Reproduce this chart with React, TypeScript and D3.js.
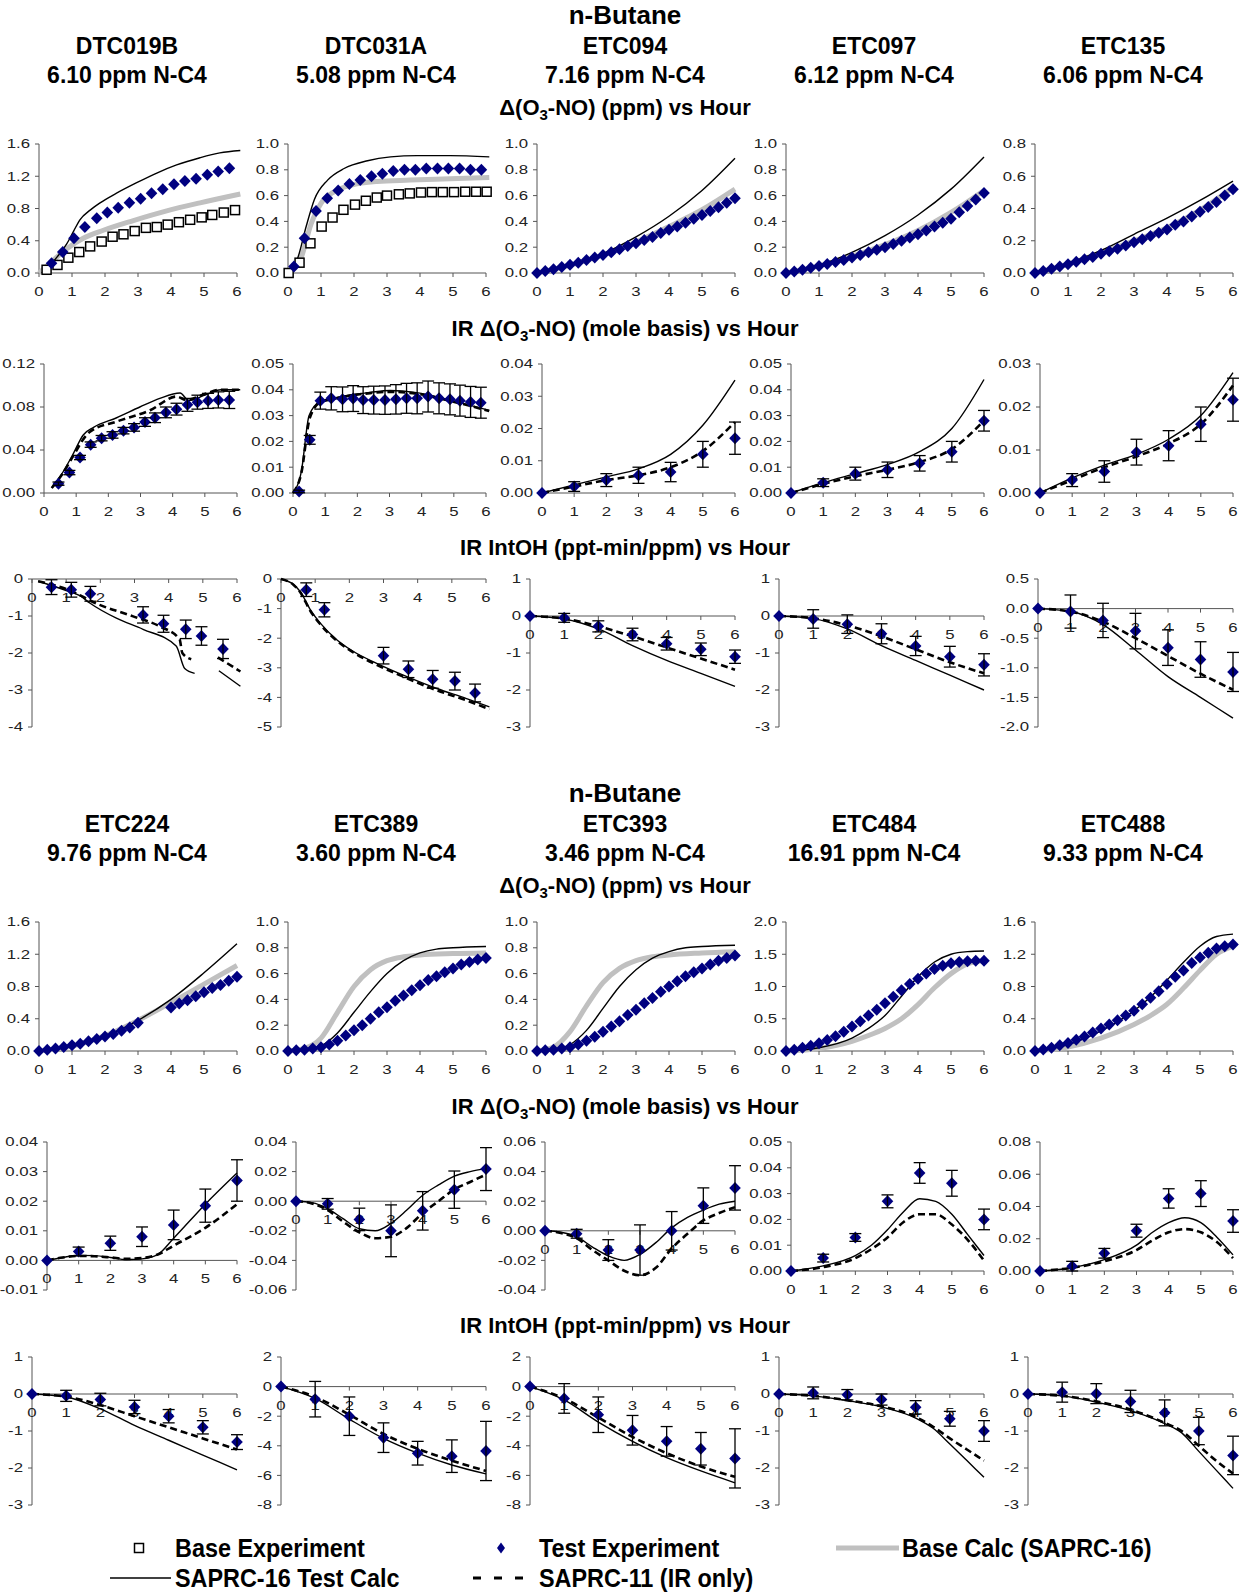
import React from 'react';
import * as d3 from 'd3';

type P2 = [number, number | null];
type P3 = [number, number, number];

const experiments = ['DTC019B', 'DTC031A', 'ETC094', 'ETC097', 'ETC135', 'ETC224', 'ETC389', 'ETC393', 'ETC484', 'ETC488'];
const nC4ppm = ['6.10', '5.08', '7.16', '6.12', '6.06', '9.76', '3.60', '3.46', '16.91', '9.33'];
const rowTitles = ['Δ(O3-NO) (ppm) vs Hour', 'IR Δ(O3-NO) (mole basis) vs Hour', 'IR IntOH (ppt-min/ppm) vs Hour'];
const hourTicks = [0, 1, 2, 3, 4, 5, 6];
const quarterHours = [0, 0.25, 0.5, 0.75, 1, 1.25, 1.5, 1.75, 2, 2.25, 2.5, 2.75, 3, 3.25, 3.5, 3.75, 4, 4.25, 4.5, 4.75, 5, 5.25, 5.5, 5.75, 6];

// y tick values
const ticks16 = [0, 0.4, 0.8, 1.2, 1.6];
const ticks10 = [0, 0.2, 0.4, 0.6, 0.8, 1.0];
const ticks08 = [0, 0.2, 0.4, 0.6, 0.8];
const ticks20 = [0, 0.5, 1.0, 1.5, 2.0];
const ticks012 = [0, 0.04, 0.08, 0.12];
const ticks005 = [0, 0.01, 0.02, 0.03, 0.04, 0.05];
const ticks004 = [0, 0.01, 0.02, 0.03, 0.04];
const ticks003 = [0, 0.01, 0.02, 0.03];
const ticks008 = [0, 0.02, 0.04, 0.06, 0.08];
const ticksE224 = [-0.01, 0, 0.01, 0.02, 0.03, 0.04];
const ticksE389 = [-0.06, -0.04, -0.02, 0, 0.02, 0.04];
const ticksE393 = [-0.04, -0.02, 0, 0.02, 0.04, 0.06];
const ticksM4 = [-4, -3, -2, -1, 0];
const ticksM5 = [-5, -4, -3, -2, -1, 0];
const ticksM3 = [-3, -2, -1, 0, 1];
const ticksM2 = [-2, -1.5, -1, -0.5, 0, 0.5];
const ticksM8 = [-8, -6, -4, -2, 0, 2];

// ---- block 1, d(O3-NO) ----
const dtc019bBaseExp: P2[] = [[0.23, 0.04], [0.56, 0.10], [0.89, 0.19], [1.22, 0.26], [1.55, 0.33], [1.9, 0.39], [2.23, 0.45], [2.56, 0.48], [2.9, 0.52], [3.24, 0.56], [3.57, 0.57], [3.9, 0.60], [4.24, 0.63], [4.58, 0.66], [4.93, 0.69], [5.25, 0.72], [5.6, 0.75], [5.94, 0.78]];
const dtc019bTestExp: P2[] = [[0.38, 0.12], [0.72, 0.26], [1.06, 0.43], [1.39, 0.57], [1.75, 0.68], [2.07, 0.75], [2.4, 0.81], [2.74, 0.87], [3.08, 0.92], [3.41, 0.99], [3.75, 1.04], [4.09, 1.10], [4.42, 1.14], [4.76, 1.17], [5.1, 1.22], [5.43, 1.26], [5.77, 1.30]];
const dtc019bTestCalc: P2[] = [[0.08, 0], [0.3, 0.08], [0.55, 0.2], [0.84, 0.36], [1.05, 0.52], [1.24, 0.66], [1.55, 0.78], [1.85, 0.87], [2.35, 0.99], [2.96, 1.12], [3.57, 1.24], [4.17, 1.34], [4.88, 1.43], [5.48, 1.49], [6.1, 1.52]];
const dtc019bBaseCalc: P2[] = [[0, 0], [0.33, 0.12], [0.84, 0.30], [1.34, 0.43], [1.95, 0.53], [2.86, 0.65], [3.87, 0.77], [4.88, 0.87], [6.1, 0.98]];

const dtc031aBaseExp: P2[] = [[0.02, 0.0], [0.35, 0.08], [0.68, 0.23], [1.02, 0.36], [1.35, 0.43], [1.68, 0.49], [2.03, 0.53], [2.36, 0.56], [2.69, 0.585], [3.0, 0.60], [3.36, 0.61], [3.69, 0.617], [4.03, 0.624], [4.36, 0.627], [4.69, 0.627], [5.03, 0.627], [5.37, 0.63], [5.7, 0.63], [6.02, 0.63]];
const dtc031aTestExp: P2[] = [[0.18, 0.05], [0.5, 0.27], [0.85, 0.48], [1.19, 0.58], [1.52, 0.64], [1.86, 0.69], [2.19, 0.72], [2.53, 0.75], [2.86, 0.77], [3.19, 0.79], [3.53, 0.80], [3.86, 0.80], [4.19, 0.81], [4.53, 0.81], [4.86, 0.81], [5.2, 0.81], [5.53, 0.80], [5.86, 0.80]];
const dtc031aTestCalc: P2[] = [[0.02, 0], [0.3, 0.12], [0.55, 0.36], [0.8, 0.57], [1.2, 0.72], [1.7, 0.81], [2.41, 0.87], [3.11, 0.90], [3.91, 0.91], [4.91, 0.91], [6.1, 0.90]];
const dtc031aBaseCalc: P2[] = [[0.02, 0], [0.4, 0.12], [0.7, 0.38], [1.0, 0.54], [1.4, 0.63], [1.9, 0.68], [2.7, 0.71], [3.7, 0.72], [4.91, 0.73], [6.1, 0.74]];

const etc094TestExp = [0, 0.015, 0.03, 0.047, 0.064, 0.08, 0.10, 0.12, 0.14, 0.16, 0.185, 0.21, 0.23, 0.255, 0.28, 0.31, 0.335, 0.36, 0.39, 0.42, 0.45, 0.48, 0.51, 0.545, 0.58];
const etc094TestCalc: P2[] = [[0, 0], [1, 0.06], [2, 0.15], [3, 0.28], [4, 0.44], [5, 0.64], [6, 0.89]];
const etc094BaseCalc: P2[] = [[0, 0], [1, 0.06], [2, 0.14], [3, 0.24], [4, 0.36], [5, 0.49], [6, 0.65]];

const etc097TestExp = [0, 0.012, 0.025, 0.04, 0.055, 0.07, 0.085, 0.10, 0.12, 0.14, 0.16, 0.18, 0.20, 0.225, 0.25, 0.275, 0.30, 0.33, 0.36, 0.39, 0.42, 0.47, 0.52, 0.57, 0.62];
const etc097TestCalc: P2[] = [[0, 0], [1, 0.06], [2, 0.16], [3, 0.29], [4, 0.45], [5, 0.65], [6, 0.90]];
const etc097BaseCalc: P2[] = [[0, 0], [1, 0.055], [2, 0.13], [3, 0.22], [4, 0.33], [5, 0.47], [6, 0.64]];

const etc135TestExp = [0, 0.013, 0.026, 0.04, 0.055, 0.07, 0.085, 0.10, 0.12, 0.135, 0.15, 0.17, 0.19, 0.21, 0.23, 0.25, 0.27, 0.30, 0.32, 0.35, 0.38, 0.41, 0.44, 0.48, 0.52];
const etc135TestCalc: P2[] = [[0, 0], [1, 0.06], [2, 0.14], [3, 0.24], [4, 0.34], [5, 0.45], [6, 0.57]];
const etc135BaseCalc: P2[] = [[0, 0], [1, 0.055], [2, 0.125], [3, 0.2], [4, 0.28], [5, 0.39], [6, 0.53]];

// ---- block 1, IR d(O3-NO) ----
const dtc019bIrTest: P3[] = [[0.45, 0.0087, 0.0015], [0.79, 0.019, 0.002], [1.12, 0.033, 0.002], [1.45, 0.045, 0.0025], [1.79, 0.051, 0.0025], [2.13, 0.054, 0.003], [2.47, 0.058, 0.003], [2.8, 0.061, 0.0035], [3.14, 0.066, 0.004], [3.45, 0.070, 0.0045], [3.79, 0.075, 0.005], [4.12, 0.078, 0.0055], [4.46, 0.082, 0.006], [4.77, 0.0845, 0.0065], [5.1, 0.0857, 0.007], [5.42, 0.0866, 0.0075], [5.76, 0.0866, 0.008]];
const dtc019bIrCalc: P2[] = [[0.24, 0.0046], [0.6, 0.02], [0.9, 0.036], [1.22, 0.054], [1.54, 0.061], [2.26, 0.070], [2.98, 0.080], [3.6, 0.088], [4.23, 0.093], [4.5, 0.086], [5.0, 0.091], [5.5, 0.096], [6.1, 0.096]];
const dtc019bIrS11: P2[] = [[0.24, 0.0046], [0.6, 0.019], [0.9, 0.034], [1.27, 0.052], [1.43, 0.057], [2.26, 0.0665], [3.3, 0.077], [4.12, 0.0897], [4.43, 0.0866], [5.0, 0.092], [5.47, 0.096], [6.1, 0.096]];

const dtc031aIrTest: P3[] = [[0.19, 0.0006, 0.0005], [0.52, 0.0206, 0.0017], [0.85, 0.0358, 0.0033], [1.19, 0.0367, 0.0045], [1.54, 0.0363, 0.0048], [1.87, 0.0366, 0.005], [2.18, 0.036, 0.0052], [2.51, 0.036, 0.0054], [2.86, 0.036, 0.0055], [3.2, 0.0363, 0.0057], [3.53, 0.0367, 0.0058], [3.86, 0.0367, 0.006], [4.2, 0.0374, 0.006], [4.54, 0.0367, 0.006], [4.88, 0.0363, 0.006], [5.19, 0.0358, 0.006], [5.52, 0.0353, 0.006], [5.84, 0.035, 0.006]];
const dtc031aIrCalc: P2[] = [[0, 0], [0.26, 0.0084], [0.5, 0.030], [0.83, 0.0354], [1.2, 0.0366], [1.76, 0.038], [2.4, 0.039], [3.01, 0.0397], [3.84, 0.0389], [4.88, 0.036], [6.1, 0.032]];
const dtc031aIrS11: P2[] = [[0, 0], [0.26, 0.0078], [0.52, 0.029], [0.85, 0.0352], [1.2, 0.0363], [1.76, 0.0377], [2.4, 0.0387], [3.01, 0.0392], [3.84, 0.0385], [4.88, 0.0357], [6.1, 0.0318]];

const etc094IrTest: P3[] = [[0, 0, 0], [1, 0.002, 0.0015], [2, 0.004, 0.002], [3, 0.0055, 0.0025], [4, 0.0065, 0.003], [5, 0.012, 0.004], [6, 0.017, 0.005]];
const etc094IrCalc: P2[] = [[0, 0], [1, 0.0025], [2, 0.005], [3, 0.0075], [4, 0.012], [5, 0.021], [6, 0.035]];
const etc094IrS11: P2[] = [[0, 0], [1, 0.002], [2, 0.004], [3, 0.0055], [4, 0.008], [5, 0.013], [6, 0.022]];

const etc097IrTest: P3[] = [[0, 0, 0], [1, 0.004, 0.0015], [2, 0.0075, 0.0025], [3, 0.009, 0.003], [4, 0.0115, 0.003], [5, 0.016, 0.004], [6, 0.028, 0.004]];
const etc097IrCalc: P2[] = [[0, 0], [1, 0.004], [2, 0.0075], [3, 0.011], [4, 0.016], [5, 0.025], [6, 0.044]];
const etc097IrS11: P2[] = [[0, 0], [1, 0.0035], [2, 0.0065], [3, 0.009], [4, 0.012], [5, 0.017], [6, 0.028]];

const etc135IrTest: P3[] = [[0, 0, 0], [1, 0.003, 0.0015], [2, 0.005, 0.0025], [3, 0.0095, 0.003], [4, 0.011, 0.0035], [5, 0.016, 0.004], [6, 0.0217, 0.005]];
const etc135IrCalc: P2[] = [[0, 0], [1, 0.0035], [2, 0.0065], [3, 0.009], [4, 0.0125], [5, 0.018], [6, 0.028]];
const etc135IrS11: P2[] = [[0, 0], [1, 0.003], [2, 0.006], [3, 0.0085], [4, 0.0115], [5, 0.016], [6, 0.025]];

// ---- block 1, IR IntOH ----
const dtc019bOhTest: P3[] = [[0.57, -0.22, 0.2], [1.15, -0.29, 0.2], [1.71, -0.40, 0.2], [3.25, -0.97, 0.22], [3.85, -1.21, 0.23], [4.5, -1.36, 0.25], [4.96, -1.54, 0.25], [5.59, -1.89, 0.26]];
const dtc019bOhCalc: P2[] = [[0.18, -0.06], [1.0, -0.31], [1.4, -0.45], [1.69, -0.65], [2.47, -1.06], [3.25, -1.36], [4.22, -1.81], [4.47, -2.42], [4.76, -2.55], [4.8, null], [5.47, -2.48], [6.1, -2.9]];
const dtc019bOhS11: P2[] = [[0.18, -0.06], [1.0, -0.27], [1.98, -0.70], [2.96, -1.01], [3.74, -1.28], [4.32, -1.63], [4.4, -2.0], [4.66, -2.17], [4.7, null], [5.44, -2.12], [6.1, -2.5]];

const dtc031aOhTest: P3[] = [[0.74, -0.36, 0.23], [1.27, -1.04, 0.24], [3.0, -2.59, 0.28], [3.73, -3.05, 0.28], [4.44, -3.39, 0.3], [5.09, -3.45, 0.3], [5.68, -3.85, 0.3]];
const dtc031aOhCalc: P2[] = [[0, 0], [0.37, -0.19], [0.56, -0.42], [0.86, -1.04], [1.15, -1.49], [1.64, -2.06], [2.12, -2.45], [2.8, -2.85], [3.58, -3.25], [4.56, -3.70], [5.43, -4.04], [6.1, -4.32]];
const dtc031aOhS11: P2[] = [[0, 0], [0.37, -0.2], [0.56, -0.44], [0.86, -1.08], [1.15, -1.53], [1.64, -2.09], [2.12, -2.48], [2.8, -2.9], [3.58, -3.3], [4.56, -3.76], [5.43, -4.1], [6.1, -4.4]];

const etc094OhTest: P3[] = [[0, 0, 0], [1, -0.05, 0.12], [2, -0.28, 0.15], [3, -0.5, 0.17], [4, -0.75, 0.17], [5, -0.9, 0.17], [6, -1.1, 0.18]];
const etc094OhCalc: P2[] = [[0, 0], [1, -0.08], [2, -0.35], [3, -0.8], [4, -1.2], [5, -1.55], [6, -1.9]];
const etc094OhS11: P2[] = [[0, 0], [1, -0.07], [2, -0.28], [3, -0.55], [4, -0.85], [5, -1.15], [6, -1.45]];

const etc097OhTest: P3[] = [[0, 0, 0], [1, -0.08, 0.25], [2, -0.22, 0.25], [3, -0.48, 0.27], [4, -0.81, 0.26], [5, -1.1, 0.28], [6, -1.32, 0.3]];
const etc097OhCalc: P2[] = [[0, 0], [1, -0.07], [2, -0.35], [3, -0.8], [4, -1.2], [5, -1.6], [6, -2.0]];
const etc097OhS11: P2[] = [[0, 0], [1, -0.06], [2, -0.25], [3, -0.55], [4, -0.9], [5, -1.25], [6, -1.55]];

const etc135OhTest: P3[] = [[0, 0, 0], [1, -0.05, 0.28], [2, -0.2, 0.29], [3, -0.38, 0.3], [4, -0.66, 0.3], [5, -0.86, 0.3], [6, -1.07, 0.33]];
const etc135OhCalc: P2[] = [[0, 0], [1, -0.05], [2, -0.27], [3, -0.7], [4, -1.15], [5, -1.5], [6, -1.85]];
const etc135OhS11: P2[] = [[0, 0], [1, -0.05], [2, -0.22], [3, -0.5], [4, -0.8], [5, -1.1], [6, -1.37]];

// ---- block 2, d(O3-NO) ----
const etc224TestExp = [0, 0.015, 0.03, 0.05, 0.07, 0.09, 0.12, 0.15, 0.18, 0.21, 0.25, 0.29, 0.35, null, null, null, 0.54, 0.59, 0.63, 0.68, 0.73, 0.78, 0.82, 0.87, 0.92];
const etc224TestCalc: P2[] = [[0, 0], [1, 0.06], [2, 0.18], [3, 0.38], [4, 0.64], [5, 0.97], [6, 1.33]];
const etc224BaseCalc: P2[] = [[0, 0], [1, 0.06], [2, 0.19], [3, 0.38], [4, 0.6], [5, 0.83], [6, 1.06]];

const etc389TestExp = [0, 0.005, 0.01, 0.02, 0.03, 0.05, 0.08, 0.12, 0.16, 0.2, 0.25, 0.3, 0.34, 0.39, 0.43, 0.47, 0.51, 0.55, 0.58, 0.61, 0.64, 0.67, 0.69, 0.71, 0.72];
const etc389TestCalc: P2[] = [[0, 0], [0.5, 0.01], [1, 0.04], [1.5, 0.14], [2, 0.3], [2.5, 0.46], [3, 0.6], [3.5, 0.7], [4, 0.76], [4.5, 0.79], [5, 0.8], [6, 0.81]];
const etc389BaseCalc: P2[] = [[0, 0], [0.5, 0.02], [1, 0.1], [1.5, 0.3], [2, 0.5], [2.5, 0.63], [3, 0.7], [3.5, 0.73], [4, 0.745], [5, 0.755], [6, 0.76]];

const etc393TestExp = [0, 0.005, 0.01, 0.02, 0.03, 0.05, 0.08, 0.11, 0.15, 0.19, 0.23, 0.28, 0.32, 0.37, 0.41, 0.46, 0.50, 0.54, 0.58, 0.61, 0.64, 0.67, 0.70, 0.72, 0.74];
const etc393TestCalc: P2[] = [[0, 0], [0.5, 0.01], [1, 0.05], [1.5, 0.16], [2, 0.33], [2.5, 0.5], [3, 0.63], [3.5, 0.72], [4, 0.77], [4.5, 0.8], [5, 0.81], [6, 0.82]];
const etc393BaseCalc: P2[] = [[0, 0], [0.5, 0.03], [1, 0.15], [1.5, 0.35], [2, 0.53], [2.5, 0.64], [3, 0.7], [3.5, 0.73], [4, 0.745], [5, 0.76], [6, 0.77]];

const etc484TestExp = [0, 0.02, 0.05, 0.08, 0.12, 0.17, 0.23, 0.3, 0.38, 0.46, 0.55, 0.64, 0.74, 0.84, 0.94, 1.04, 1.12, 1.2, 1.27, 1.32, 1.36, 1.38, 1.39, 1.40, 1.40];
const etc484TestCalc: P2[] = [[0, 0], [1, 0.05], [2, 0.2], [2.5, 0.35], [3, 0.55], [3.5, 0.85], [4, 1.15], [4.5, 1.38], [5, 1.5], [5.5, 1.54], [6, 1.55]];
const etc484BaseCalc: P2[] = [[0, 0], [1, 0.04], [2, 0.15], [2.5, 0.24], [3, 0.35], [3.5, 0.5], [4, 0.72], [4.5, 0.98], [5, 1.2], [5.5, 1.35], [6, 1.40]];

const etc488TestExp = [0, 0.02, 0.04, 0.07, 0.1, 0.14, 0.18, 0.23, 0.28, 0.33, 0.38, 0.44, 0.5, 0.58, 0.66, 0.74, 0.83, 0.92, 1.0, 1.09, 1.16, 1.22, 1.27, 1.30, 1.32];
const etc488TestCalc: P2[] = [[0, 0], [1, 0.08], [2, 0.25], [3, 0.5], [3.5, 0.67], [4, 0.88], [4.5, 1.1], [5, 1.3], [5.5, 1.42], [6, 1.45]];
const etc488BaseCalc: P2[] = [[0, 0], [1, 0.05], [2, 0.16], [3, 0.33], [3.5, 0.44], [4, 0.58], [4.5, 0.78], [5, 1.0], [5.5, 1.2], [6, 1.3]];

// ---- block 2, IR d(O3-NO) ----
const etc224IrTest: P3[] = [[0, 0, 0], [1, 0.003, 0.0015], [2, 0.0058, 0.0024], [3, 0.008, 0.0033], [4, 0.012, 0.005], [5, 0.0185, 0.0056], [6, 0.027, 0.007]];
const etc224IrCalc: P2[] = [[0, 0], [0.5, 0.001], [1, 0.0017], [1.5, 0.0016], [2, 0.001], [2.5, 0.0003], [3, 0.0005], [3.5, 0.002], [4, 0.0075], [5, 0.019], [6, 0.0295]];
const etc224IrS11: P2[] = [[0, 0], [0.5, 0.001], [1, 0.0015], [1.5, 0.0014], [2, 0.001], [2.5, 0.0005], [3, 0.0008], [3.5, 0.002], [4, 0.005], [5, 0.011], [6, 0.019]];

const etc389IrTest: P3[] = [[0, 0, 0], [1, -0.0018, 0.0036], [2, -0.0123, 0.0076], [3, -0.02, 0.0175], [4, -0.0065, 0.013], [5, 0.0078, 0.0126], [6, 0.0217, 0.0145]];
const etc389IrCalc: P2[] = [[0, 0], [0.5, -0.001], [1, -0.005], [1.5, -0.012], [2, -0.0186], [2.5, -0.02], [3, -0.015], [3.5, -0.006], [4, 0.004], [4.5, 0.011], [5, 0.017], [5.5, 0.02], [6, 0.022]];
const etc389IrS11: P2[] = [[0, 0], [0.5, -0.0015], [1, -0.006], [1.5, -0.014], [2, -0.021], [2.5, -0.025], [3, -0.024], [3.5, -0.018], [4, -0.008], [4.5, 0.0], [5, 0.008], [5.5, 0.013], [6, 0.018]];

const etc393IrTest: P3[] = [[0, 0, 0], [1, -0.002, 0.003], [2, -0.013, 0.007], [3, -0.013, 0.017], [4, 0.0, 0.013], [5, 0.017, 0.012], [6, 0.029, 0.015]];
const etc393IrCalc: P2[] = [[0, 0], [0.5, -0.001], [1, -0.004], [1.5, -0.011], [2, -0.017], [2.5, -0.02], [3, -0.016], [3.5, -0.008], [4, 0.002], [4.5, 0.009], [5, 0.014], [5.5, 0.018], [6, 0.02]];
const etc393IrS11: P2[] = [[0, 0], [0.5, -0.0015], [1, -0.005], [1.5, -0.013], [2, -0.02], [2.5, -0.027], [3, -0.03], [3.5, -0.025], [4, -0.012], [4.5, -0.002], [5, 0.007], [5.5, 0.012], [6, 0.016]];

const etc484IrTest: P3[] = [[0, 0, 0], [1, 0.005, 0.0015], [2, 0.013, 0.0015], [3, 0.027, 0.0025], [4, 0.038, 0.004], [5, 0.034, 0.005], [6, 0.020, 0.004]];
const etc484IrCalc: P2[] = [[0, 0], [1, 0.002], [2, 0.006], [2.5, 0.01], [3, 0.016], [3.5, 0.023], [4, 0.028], [4.5, 0.027], [5, 0.022], [5.5, 0.014], [6, 0.006]];
const etc484IrS11: P2[] = [[0, 0], [1, 0.0015], [2, 0.005], [2.5, 0.0085], [3, 0.013], [3.5, 0.019], [4, 0.022], [4.5, 0.022], [5, 0.018], [5.5, 0.012], [6, 0.004]];

const etc488IrTest: P3[] = [[0, 0, 0], [1, 0.003, 0.003], [2, 0.011, 0.003], [3, 0.025, 0.004], [4, 0.045, 0.006], [5, 0.048, 0.008], [6, 0.031, 0.007]];
const etc488IrCalc: P2[] = [[0, 0], [1, 0.002], [2, 0.007], [3, 0.016], [3.5, 0.024], [4, 0.030], [4.5, 0.033], [5, 0.03], [5.5, 0.021], [6, 0.01]];
const etc488IrS11: P2[] = [[0, 0], [1, 0.002], [2, 0.006], [3, 0.013], [3.5, 0.019], [4, 0.024], [4.5, 0.026], [5, 0.024], [5.5, 0.018], [6, 0.008]];

// ---- block 2, IR IntOH ----
const etc224OhTest: P3[] = [[0, 0, 0], [1, -0.05, 0.15], [2, -0.15, 0.17], [3, -0.35, 0.18], [4, -0.6, 0.18], [5, -0.9, 0.18], [6, -1.3, 0.2]];
const etc224OhCalc: P2[] = [[0, 0], [1, -0.08], [2, -0.4], [3, -0.85], [4, -1.25], [5, -1.65], [6, -2.05]];
const etc224OhS11: P2[] = [[0, 0], [1, -0.07], [2, -0.3], [3, -0.6], [4, -0.9], [5, -1.2], [6, -1.5]];

const etc389OhTest: P3[] = [[0, 0, 0], [1, -0.85, 1.2], [2, -2.0, 1.3], [3, -3.45, 1.0], [4, -4.5, 0.8], [5, -4.7, 1.1], [6, -4.35, 2.0]];
const etc389OhCalc: P2[] = [[0, 0], [1, -0.8], [2, -2.2], [3, -3.5], [4, -4.5], [5, -5.3], [6, -5.9]];
const etc389OhS11: P2[] = [[0, 0], [1, -0.7], [2, -1.9], [3, -3.2], [4, -4.2], [5, -5.0], [6, -5.7]];

const etc393OhTest: P3[] = [[0, 0, 0], [1, -0.8, 1.0], [2, -1.9, 1.2], [3, -2.95, 1.0], [4, -3.7, 1.0], [5, -4.2, 1.1], [6, -4.85, 2.0]];
const etc393OhCalc: P2[] = [[0, 0], [1, -0.9], [2, -2.4], [3, -3.7], [4, -4.8], [5, -5.7], [6, -6.5]];
const etc393OhS11: P2[] = [[0, 0], [1, -0.8], [2, -2.1], [3, -3.4], [4, -4.5], [5, -5.4], [6, -6.1]];

const etc484OhTest: P3[] = [[0, 0, 0], [1, 0.03, 0.16], [2, -0.02, 0.14], [3, -0.15, 0.15], [4, -0.36, 0.18], [5, -0.67, 0.2], [6, -1.0, 0.28]];
const etc484OhCalc: P2[] = [[0, 0], [1, -0.05], [2, -0.18], [3, -0.35], [4, -0.65], [4.5, -0.92], [5, -1.35], [5.5, -1.8], [6, -2.25]];
const etc484OhS11: P2[] = [[0, 0], [1, -0.05], [2, -0.17], [3, -0.33], [4, -0.62], [4.5, -0.88], [5, -1.2], [5.5, -1.5], [6, -1.8]];

const etc488OhTest: P3[] = [[0, 0, 0], [1, 0.05, 0.27], [2, 0.01, 0.27], [3, -0.2, 0.3], [4, -0.51, 0.35], [5, -1.0, 0.37], [6, -1.66, 0.52]];
const etc488OhCalc: P2[] = [[0, 0], [1, -0.05], [2, -0.22], [3, -0.45], [4, -0.8], [4.5, -1.05], [5, -1.55], [5.5, -2.05], [6, -2.55]];
const etc488OhS11: P2[] = [[0, 0], [1, -0.05], [2, -0.2], [3, -0.42], [4, -0.78], [4.5, -1.0], [5, -1.4], [5.5, -1.8], [6, -2.15]];

const q = (vals: (number | null)[]): P2[] => quarterHours.map((h, i) => [h, vals[i]]);

interface PanelDef {
  row: number; col: number; ticks: number[]; dec: number;
  baseExp?: P2[]; testExp?: P2[]; testErr?: P3[];
  testCalc: P2[]; baseCalc?: P2[]; saprc11?: P2[];
}

const panels: PanelDef[] = [
  { row: 0, col: 0, ticks: ticks16, dec: 1, baseExp: dtc019bBaseExp, testExp: dtc019bTestExp, testCalc: dtc019bTestCalc, baseCalc: dtc019bBaseCalc },
  { row: 0, col: 1, ticks: ticks10, dec: 1, baseExp: dtc031aBaseExp, testExp: dtc031aTestExp, testCalc: dtc031aTestCalc, baseCalc: dtc031aBaseCalc },
  { row: 0, col: 2, ticks: ticks10, dec: 1, testExp: q(etc094TestExp), testCalc: etc094TestCalc, baseCalc: etc094BaseCalc },
  { row: 0, col: 3, ticks: ticks10, dec: 1, testExp: q(etc097TestExp), testCalc: etc097TestCalc, baseCalc: etc097BaseCalc },
  { row: 0, col: 4, ticks: ticks08, dec: 1, testExp: q(etc135TestExp), testCalc: etc135TestCalc, baseCalc: etc135BaseCalc },
  { row: 1, col: 0, ticks: ticks012, dec: 2, testErr: dtc019bIrTest, testCalc: dtc019bIrCalc, saprc11: dtc019bIrS11 },
  { row: 1, col: 1, ticks: ticks005, dec: 2, testErr: dtc031aIrTest, testCalc: dtc031aIrCalc, saprc11: dtc031aIrS11 },
  { row: 1, col: 2, ticks: ticks004, dec: 2, testErr: etc094IrTest, testCalc: etc094IrCalc, saprc11: etc094IrS11 },
  { row: 1, col: 3, ticks: ticks005, dec: 2, testErr: etc097IrTest, testCalc: etc097IrCalc, saprc11: etc097IrS11 },
  { row: 1, col: 4, ticks: ticks003, dec: 2, testErr: etc135IrTest, testCalc: etc135IrCalc, saprc11: etc135IrS11 },
  { row: 2, col: 0, ticks: ticksM4, dec: 0, testErr: dtc019bOhTest, testCalc: dtc019bOhCalc, saprc11: dtc019bOhS11 },
  { row: 2, col: 1, ticks: ticksM5, dec: 0, testErr: dtc031aOhTest, testCalc: dtc031aOhCalc, saprc11: dtc031aOhS11 },
  { row: 2, col: 2, ticks: ticksM3, dec: 0, testErr: etc094OhTest, testCalc: etc094OhCalc, saprc11: etc094OhS11 },
  { row: 2, col: 3, ticks: ticksM3, dec: 0, testErr: etc097OhTest, testCalc: etc097OhCalc, saprc11: etc097OhS11 },
  { row: 2, col: 4, ticks: ticksM2, dec: 1, testErr: etc135OhTest, testCalc: etc135OhCalc, saprc11: etc135OhS11 },
  { row: 3, col: 0, ticks: ticks16, dec: 1, testExp: q(etc224TestExp), testCalc: etc224TestCalc, baseCalc: etc224BaseCalc },
  { row: 3, col: 1, ticks: ticks10, dec: 1, testExp: q(etc389TestExp), testCalc: etc389TestCalc, baseCalc: etc389BaseCalc },
  { row: 3, col: 2, ticks: ticks10, dec: 1, testExp: q(etc393TestExp), testCalc: etc393TestCalc, baseCalc: etc393BaseCalc },
  { row: 3, col: 3, ticks: ticks20, dec: 1, testExp: q(etc484TestExp), testCalc: etc484TestCalc, baseCalc: etc484BaseCalc },
  { row: 3, col: 4, ticks: ticks16, dec: 1, testExp: q(etc488TestExp), testCalc: etc488TestCalc, baseCalc: etc488BaseCalc },
  { row: 4, col: 0, ticks: ticksE224, dec: 2, testErr: etc224IrTest, testCalc: etc224IrCalc, saprc11: etc224IrS11 },
  { row: 4, col: 1, ticks: ticksE389, dec: 2, testErr: etc389IrTest, testCalc: etc389IrCalc, saprc11: etc389IrS11 },
  { row: 4, col: 2, ticks: ticksE393, dec: 2, testErr: etc393IrTest, testCalc: etc393IrCalc, saprc11: etc393IrS11 },
  { row: 4, col: 3, ticks: ticks005, dec: 2, testErr: etc484IrTest, testCalc: etc484IrCalc, saprc11: etc484IrS11 },
  { row: 4, col: 4, ticks: ticks008, dec: 2, testErr: etc488IrTest, testCalc: etc488IrCalc, saprc11: etc488IrS11 },
  { row: 5, col: 0, ticks: ticksM3, dec: 0, testErr: etc224OhTest, testCalc: etc224OhCalc, saprc11: etc224OhS11 },
  { row: 5, col: 1, ticks: ticksM8, dec: 0, testErr: etc389OhTest, testCalc: etc389OhCalc, saprc11: etc389OhS11 },
  { row: 5, col: 2, ticks: ticksM8, dec: 0, testErr: etc393OhTest, testCalc: etc393OhCalc, saprc11: etc393OhS11 },
  { row: 5, col: 3, ticks: ticksM3, dec: 0, testErr: etc484OhTest, testCalc: etc484OhCalc, saprc11: etc484OhS11 },
  { row: 5, col: 4, ticks: ticksM3, dec: 0, testErr: etc488OhTest, testCalc: etc488OhCalc, saprc11: etc488OhS11 },
];

const W = 1246, H = 1595;
const COL = 249;
const BLOCK = 778;
const rowTops = [144, 364, 579];
const FONT = '"Liberation Sans", Arial, Helvetica, sans-serif';
const NAVY = '#000080';
const GRAY = '#c0c0c0';

// left axis position depends on how wide the tick labels are
function labelOffset(labels: string[]) {
  let m = 0;
  labels.forEach(s => {
    let w = 24;
    for (const c of s) w += c === '-' ? 3 : 5;
    m = Math.max(m, w);
  });
  return m;
}

const diamond = (cx: number, cy: number, rx = 5.8, ry = 6) =>
  `M${cx},${cy - ry}L${cx + rx},${cy}L${cx},${cy + ry}L${cx - rx},${cy}Z`;

function TickText({ x, y, anchor, children }: { x: number; y: number; anchor: string; children: React.ReactNode }) {
  return (
    <text transform={`translate(${x},${y}) scale(1.4,1)`} textAnchor={anchor} fontSize={12} fill="#222">
      {children}
    </text>
  );
}

function Panel({ d }: { d: PanelDef }) {
  const block = d.row >= 3 ? BLOCK : 0;
  const top = rowTops[d.row % 3] + block;
  const yMin = d.ticks[0];
  const yMax = d.ticks[d.ticks.length - 1];
  const bottom = top + (yMin < 0 ? 148 : 129);
  const labels = d.ticks.map(t => t.toFixed(d.dec));
  const left = COL * d.col + labelOffset(labels);
  const right = 237 + COL * d.col;
  const x = d3.scaleLinear().domain([0, 6]).range([left, right]);
  const y = d3.scaleLinear().domain([yMin, yMax]).range([bottom, top]);
  const line = d3.line<P2>()
    .defined(p => p[1] !== null)
    .x(p => x(p[0]))
    .y(p => y(p[1] as number))
    .curve(d3.curveMonotoneX);
  const y0 = y(0);

  return (
    <g>
      {/* y axis */}
      <line x1={left} x2={left} y1={top} y2={bottom} stroke="#555" strokeWidth={1} />
      {d.ticks.map((t, i) => (
        <g key={i}>
          <line x1={left - 4} x2={left} y1={y(t)} y2={y(t)} stroke="#555" />
          <TickText x={left - 9} y={y(t) + 4.3} anchor="end">{labels[i]}</TickText>
        </g>
      ))}
      {/* x axis */}
      <line x1={left} x2={x(6)} y1={y0} y2={y0} stroke="#555" strokeWidth={1} />
      {hourTicks.map(h => (
        <g key={h}>
          <line x1={x(h)} x2={x(h)} y1={y0} y2={y0 + 4} stroke="#555" />
          <TickText x={x(h)} y={y0 + 23} anchor="middle">{h}</TickText>
        </g>
      ))}
      {d.baseCalc && <path d={line(d.baseCalc) || ''} fill="none" stroke={GRAY} strokeWidth={5} />}
      <path d={line(d.testCalc) || ''} fill="none" stroke="#000" strokeWidth={1.4} />
      {d.saprc11 && <path d={line(d.saprc11) || ''} fill="none" stroke="#000" strokeWidth={2.6} strokeDasharray="7 4" />}
      {d.baseExp && d.baseExp.map((p, i) => (
        <rect key={i} x={x(p[0]) - 4.5} y={y(p[1] as number) - 4.5} width={9} height={9} fill="#fff" stroke="#000" strokeWidth={1.5} />
      ))}
      {d.testExp && d.testExp.filter(p => p[1] !== null).map((p, i) => (
        <path key={i} d={diamond(x(p[0]), y(p[1] as number))} fill={NAVY} />
      ))}
      {d.testErr && d.testErr.map((p, i) => (
        <path key={i} d={diamond(x(p[0]), y(p[1]))} fill={NAVY} />
      ))}
      {d.testErr && d.testErr.filter(p => p[2] > 0).map((p, i) => {
        const cx = x(p[0]);
        const yt = y(p[1] + p[2]);
        const yb = y(p[1] - p[2]);
        return (
          <g key={i} stroke="#000" strokeWidth={1.3}>
            <line x1={cx} x2={cx} y1={yt} y2={yb} />
            <line x1={cx - 6} x2={cx + 6} y1={yt} y2={yt} />
            <line x1={cx - 6} x2={cx + 6} y1={yb} y2={yb} />
          </g>
        );
      })}
    </g>
  );
}

function SubTitle({ text, x, y }: { text: string; x: number; y: number }) {
  const i = text.indexOf('O3');
  return (
    <text x={x} y={y} textAnchor="middle" fontSize={22} fontWeight="bold">
      {i < 0 ? text : (
        <>
          {text.slice(0, i)}O<tspan dy={5} fontSize={15}>3</tspan><tspan dy={-5}>{text.slice(i + 2)}</tspan>
        </>
      )}
    </text>
  );
}

function LegendText({ x, y, children }: { x: number; y: number; children: React.ReactNode }) {
  return (
    <text transform={`translate(${x},${y}) scale(0.9,1)`} fontSize={26} fontWeight="bold">{children}</text>
  );
}

export default function App() {
  const subRows = [115, 336, 555];
  return (
    <svg width={W} height={H} style={{ position: 'absolute', left: 0, top: 0, background: '#fff' }} fontFamily={FONT}>
      <rect width={W} height={H} fill="#fff" />
      {[0, 1].map(b => (
        <g key={b}>
          <text x={625} y={24 + b * BLOCK} textAnchor="middle" fontSize={26} fontWeight="bold">n-Butane</text>
          {[0, 1, 2, 3, 4].map(c => (
            <g key={c}>
              <text x={127 + c * COL} y={54 + b * BLOCK} textAnchor="middle" fontSize={23} fontWeight="bold">{experiments[b * 5 + c]}</text>
              <text x={127 + c * COL} y={83 + b * BLOCK} textAnchor="middle" fontSize={23} fontWeight="bold">{nC4ppm[b * 5 + c]} ppm N-C4</text>
            </g>
          ))}
          {rowTitles.map((t, i) => (
            <SubTitle key={i} text={t} x={625} y={subRows[i] + b * BLOCK} />
          ))}
        </g>
      ))}
      {panels.map((p, i) => <Panel key={i} d={p} />)}

      {/* legend */}
      <rect x={134.5} y={1543.5} width={9} height={9} fill="#fff" stroke="#000" strokeWidth={1.5} />
      <LegendText x={175} y={1557}>Base Experiment</LegendText>
      <path d={diamond(501, 1548, 4, 5.5)} fill={NAVY} />
      <LegendText x={539} y={1557}>Test Experiment</LegendText>
      <line x1={836} x2={899} y1={1548} y2={1548} stroke={GRAY} strokeWidth={5} />
      <LegendText x={902} y={1557}>Base Calc (SAPRC-16)</LegendText>
      <line x1={110} x2={171} y1={1578} y2={1578} stroke="#000" strokeWidth={1.5} />
      <LegendText x={175} y={1587}>SAPRC-16 Test Calc</LegendText>
      <line x1={473} x2={524} y1={1578} y2={1578} stroke="#000" strokeWidth={3} strokeDasharray="8 13" />
      <LegendText x={539} y={1587}>SAPRC-11 (IR only)</LegendText>
    </svg>
  );
}
